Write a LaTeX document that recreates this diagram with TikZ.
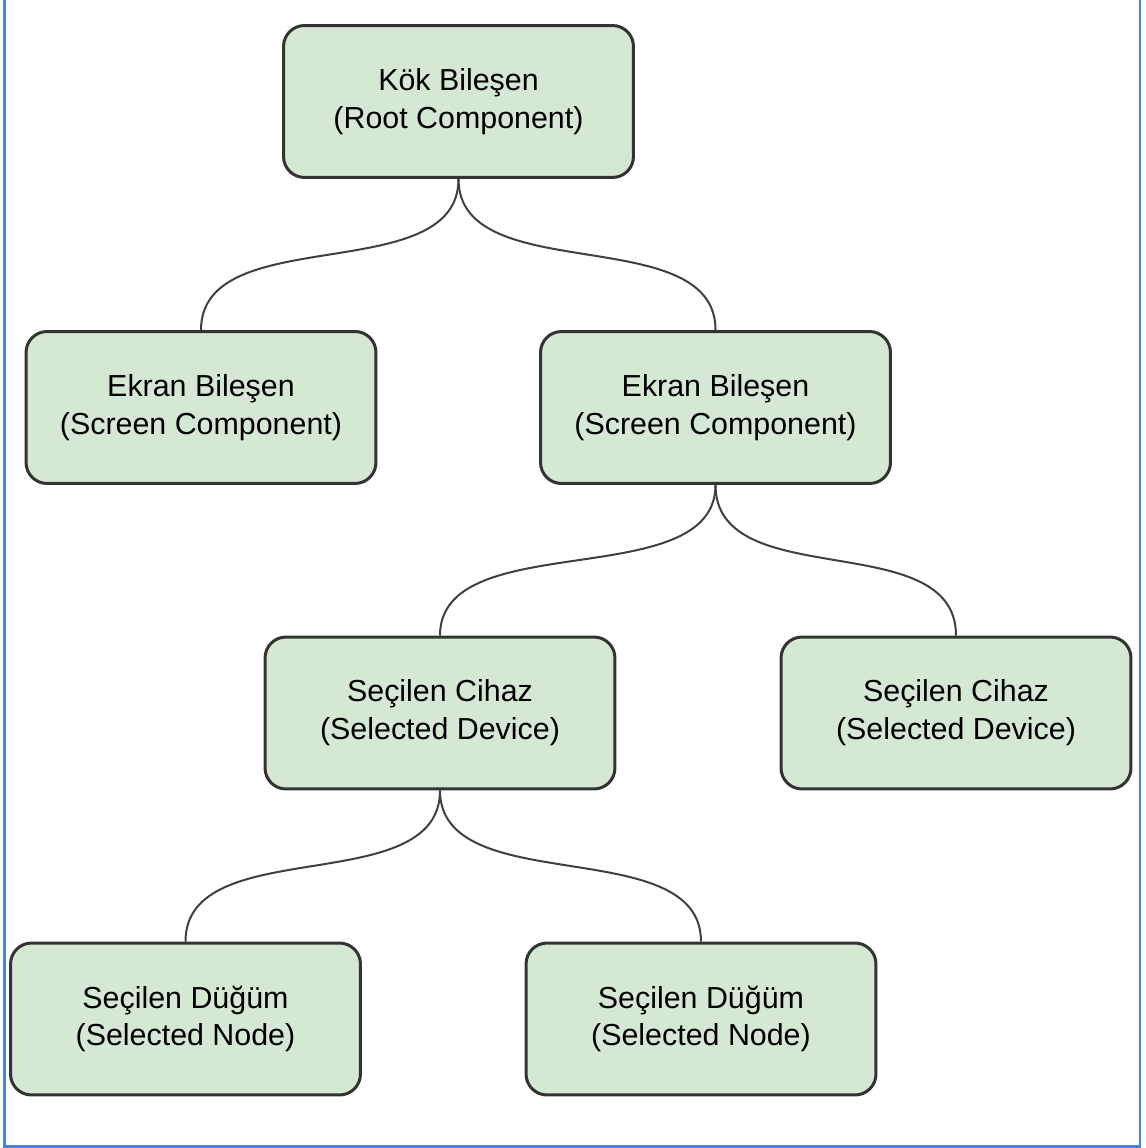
\documentclass[tikz,border=0pt]{standalone}
\usepackage{fontspec}
\setmainfont{Liberation Sans}
\definecolor{boxfill}{HTML}{D5E8D4}
\definecolor{boxline}{HTML}{333333}
\definecolor{frameblue}{HTML}{4A84DC}
\begin{document}
\begin{tikzpicture}[x=0.02cm,y=-0.02cm,
  compbox/.style={draw=boxline, line width=0.06cm, fill=boxfill, rounded corners=0.42cm,
    minimum width=7.0cm, minimum height=3.04cm, align=center, inner sep=0pt,
    font=\fontsize{17.3}{21.5}\selectfont},
  link/.style={draw=black!75, line width=0.04cm}]
\useasboundingbox (0,0) rectangle (1145,1148);
\fill[white] (0,0) rectangle (1145,1148);
\draw[frameblue, line width=0.045cm] (4.5,0) -- (4.5,1146.5) -- (1140,1146.5) -- (1140,0);

\node[compbox] (root) at (458.5,101.5) {Kök Bileşen\\(Root Component)};
\node[compbox] (s1) at (201,407.5) {Ekran Bileşen\\(Screen Component)};
\node[compbox] (s2) at (715.5,407.5) {Ekran Bileşen\\(Screen Component)};
\node[compbox] (d1) at (440,713) {Seçilen Cihaz\\(Selected Device)};
\node[compbox] (d2) at (956,713) {Seçilen Cihaz\\(Selected Device)};
\node[compbox] (n1) at (185.5,1019) {Seçilen Düğüm\\(Selected Node)};
\node[compbox] (n2) at (701,1019) {Seçilen Düğüm\\(Selected Node)};

\draw[link] (root.south) .. controls +(0,110) and +(0,-110) .. (s1.north);
\draw[link] (root.south) .. controls +(0,110) and +(0,-110) .. (s2.north);
\draw[link] (s2.south) .. controls +(0,110) and +(0,-110) .. (d1.north);
\draw[link] (s2.south) .. controls +(0,110) and +(0,-110) .. (d2.north);
\draw[link] (d1.south) .. controls +(0,110) and +(0,-110) .. (n1.north);
\draw[link] (d1.south) .. controls +(0,110) and +(0,-110) .. (n2.north);
\end{tikzpicture}
\end{document}
